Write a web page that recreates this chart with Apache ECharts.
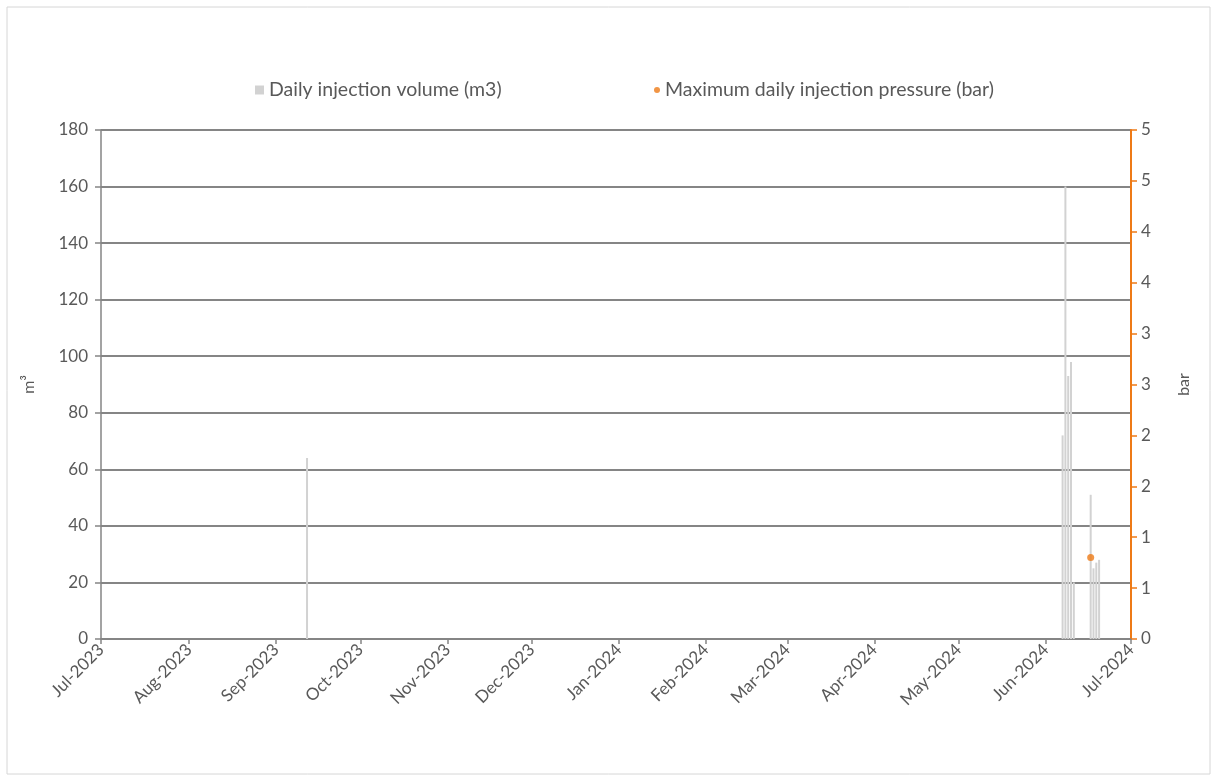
<!DOCTYPE html>
<html>
<head>
<meta charset="utf-8">
<script src="https://cdn.jsdelivr.net/npm/echarts@6/dist/echarts.min.js"></script>
<style>
  html, body { margin: 0; padding: 0; background: #ffffff; }
  #chart { width: 1218px; height: 782px; }
</style>
</head>
<body>
<div id="chart"></div>
<script>
// Daily injection volume (m3)
const volumeDates = ['2023-09-12', '2024-06-07', '2024-06-08', '2024-06-09', '2024-06-10',
                     '2024-06-11', '2024-06-17', '2024-06-18', '2024-06-19', '2024-06-20'];
const volumeValues = [64, 72, 160, 93, 98, 20, 51, 25, 27, 28];

// Maximum daily injection pressure (bar)
const pressureDates = ['2024-06-17'];
const pressureValues = [0.8];

const monthNames = ['Jan', 'Feb', 'Mar', 'Apr', 'May', 'Jun', 'Jul', 'Aug', 'Sep', 'Oct', 'Nov', 'Dec'];

// Parse 'YYYY-MM-DD' as a local calendar date
function toTime(s) {
  const p = s.split('-').map(Number);
  return new Date(p[0], p[1] - 1, p[2]).getTime();
}

const FONT = 'Lato';
const TEXT = '#595959';
const GRID_GREY = '#858585';
const ORANGE = '#ee7a16';

const chart = echarts.init(document.getElementById('chart'), null, { renderer: 'canvas' });

chart.setOption({
  backgroundColor: '#ffffff',
  animation: false,
  textStyle: { fontFamily: FONT },
  graphic: [{
    type: 'rect',
    shape: { x: 7, y: 7, width: 1203, height: 767 },
    style: { fill: 'none', stroke: '#d6d6d6', lineWidth: 1 },
    silent: true,
    z: -1
  }],
  legend: [{
    left: 250, top: 75,
    itemWidth: 9, itemHeight: 9, itemGap: 8,
    icon: 'rect',
    data: ['Daily injection volume (m3)'],
    textStyle: { fontFamily: FONT, fontSize: 19.5, color: TEXT }
  }, {
    left: 649, top: 75,
    itemWidth: 6, itemHeight: 6,
    icon: 'circle',
    data: ['Maximum daily injection pressure (bar)'],
    textStyle: { fontFamily: FONT, fontSize: 19.5, color: TEXT }
  }],
  grid: { left: 101, right: 87, top: 130, bottom: 143, containLabel: false },
  xAxis: {
    type: 'time',
    min: toTime('2023-07-01'),
    max: toTime('2024-07-01'),
    splitNumber: 12,
    minInterval: 28 * 86400000,
    axisLine: { show: true, lineStyle: { color: GRID_GREY, width: 1.5 } },
    axisTick: { show: true, length: 5, lineStyle: { color: GRID_GREY, width: 1.5 } },
    splitLine: { show: false },
    axisLabel: {
      rotate: 45,
      margin: 8,
      fontFamily: FONT,
      fontSize: 17,
      color: TEXT,
      showMinLabel: true,
      showMaxLabel: true,
      hideOverlap: false,
      formatter: function (val) {
        const d = new Date(val + 12 * 3600000);
        return monthNames[d.getMonth()] + '-' + d.getFullYear();
      }
    }
  },
  yAxis: [{
    type: 'value',
    min: 0, max: 180, interval: 20,
    name: 'm³',
    nameLocation: 'middle',
    nameGap: 64,
    nameTextStyle: { fontFamily: FONT, fontSize: 16, color: TEXT },
    axisLine: { show: true, lineStyle: { color: GRID_GREY, width: 1.5 } },
    axisTick: { show: true, inside: false, length: 6, lineStyle: { color: GRID_GREY, width: 1.5 } },
    axisLabel: { fontFamily: FONT, fontSize: 17, color: TEXT, margin: 13 },
    splitLine: { show: true, lineStyle: { color: GRID_GREY, width: 2 } }
  }, {
    type: 'value',
    position: 'right',
    min: 0, max: 5, interval: 0.5,
    name: 'bar',
    nameLocation: 'middle',
    nameGap: 45,
    nameTextStyle: { fontFamily: FONT, fontSize: 16, color: TEXT },
    axisLine: { show: true, lineStyle: { color: ORANGE, width: 2 } },
    axisTick: { show: true, inside: false, length: 6, lineStyle: { color: ORANGE, width: 1.5 } },
    axisLabel: {
      fontFamily: FONT, fontSize: 17, color: TEXT, margin: 10,
      formatter: function (v) { return String(Math.round(v)); }
    },
    splitLine: { show: false }
  }],
  series: [{
    name: 'Daily injection volume (m3)',
    type: 'bar',
    yAxisIndex: 0,
    barWidth: 2,
    itemStyle: { color: '#d2d2d2' },
    data: volumeDates.map((d, i) => [toTime(d), volumeValues[i]]),
    z: 1
  }, {
    name: 'Maximum daily injection pressure (bar)',
    type: 'scatter',
    yAxisIndex: 1,
    symbol: 'circle',
    symbolSize: 7,
    itemStyle: { color: ORANGE },
    data: pressureDates.map((d, i) => [toTime(d), pressureValues[i]]),
    z: 3
  }]
});
</script>
</body>
</html>
